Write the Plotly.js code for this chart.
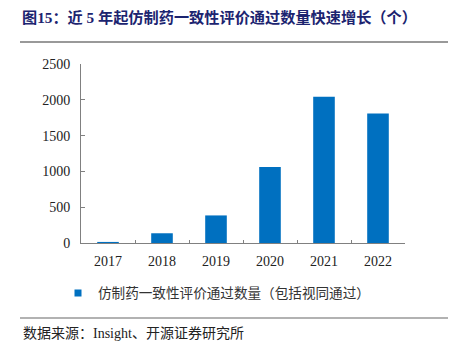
<!DOCTYPE html>
<html>
<head>
<meta charset="utf-8">
<script src="https://cdn.plot.ly/plotly-3.0.1.min.js"></script>
<style>
html,body{margin:0;padding:0;background:#fff;}
#chart{width:453px;height:349px;}
</style>
</head>
<body>
<div id="chart"></div>
<script>
const years = ['2017', '2018', '2019', '2020', '2021', '2022'];
const approvals = [15, 136, 385, 1060, 2043, 1807];
const seriesName = '仿制药一致性评价通过数量（包括视同通过）';
const titleText = '图15：近 5 年起仿制药一致性评价通过数量快速增长（个）';
const sourceText = '数据来源：Insight、开源证券研究所';
const yTicks = [0, 500, 1000, 1500, 2000, 2500];

const serifCJK = 'Liberation Serif, Noto Sans CJK SC, serif';
const barColor = '#0070c0';

const bars = {
  type: 'bar',
  x: years,
  y: approvals,
  name: seriesName,
  marker: {color: barColor},
  showlegend: false,
  hoverinfo: 'x+y'
};

// legend entry for the bar series (small square key as in the reference)
const legendKey = {
  type: 'scatter',
  mode: 'markers',
  x: [null],
  y: [null],
  name: seriesName,
  marker: {symbol: 'square', size: 7, color: barColor},
  showlegend: true,
  hoverinfo: 'skip'
};

const layout = {
  width: 453,
  height: 349,
  margin: {l: 81, r: 48, t: 63.5, b: 105.5},
  paper_bgcolor: '#ffffff',
  plot_bgcolor: '#ffffff',
  bargap: 0.6,
  title: {
    text: titleText,
    font: {family: serifCJK, size: 15.2, color: '#1c2470', weight: 'bold'},
    x: 22 / 453, xanchor: 'left', xref: 'container',
    y: 1 - 18 / 349, yanchor: 'middle', yref: 'container'
  },
  xaxis: {
    type: 'category',
    showline: true, linecolor: '#808080', linewidth: 1,
    ticks: 'inside', ticklen: 3, tickcolor: '#808080', tickson: 'boundaries',
    showgrid: false, zeroline: false,
    ticklabelstandoff: 5,
    tickfont: {family: 'Liberation Serif, serif', size: 14, color: '#222'},
    fixedrange: true
  },
  yaxis: {
    range: [0, 2500],
    tickvals: yTicks,
    ticktext: yTicks.map(String),
    showline: true, linecolor: '#808080', linewidth: 1,
    ticks: 'inside', ticklen: 4, tickcolor: '#808080',
    showgrid: false, zeroline: false,
    ticklabelstandoff: 7,
    tickfont: {family: 'Liberation Serif, serif', size: 14, color: '#222'},
    fixedrange: true
  },
  showlegend: true,
  legend: {
    orientation: 'h',
    x: (58 - 81) / 324, xanchor: 'left',
    y: (243.5 - 294) / 180, yanchor: 'middle',
    font: {family: 'Noto Sans CJK SC, sans-serif', size: 13.6, color: '#333'},
    bgcolor: 'rgba(0,0,0,0)'
  },
  shapes: [
    {type: 'line', xref: 'paper', yref: 'paper',
     x0: (20 - 81) / 324, x1: (448 - 81) / 324,
     y0: (243.5 - 41.5) / 180, y1: (243.5 - 41.5) / 180,
     line: {color: '#999999', width: 2}},
    {type: 'line', xref: 'paper', yref: 'paper',
     x0: (20 - 81) / 324, x1: (448 - 81) / 324,
     y0: (243.5 - 319) / 180, y1: (243.5 - 319) / 180,
     line: {color: '#999999', width: 1.5}}
  ],
  annotations: [
    {text: sourceText, xref: 'paper', yref: 'paper',
     x: (21 - 81) / 324, y: (243.5 - 335) / 180,
     xanchor: 'left', yanchor: 'middle', showarrow: false,
     font: {family: serifCJK, size: 14, color: '#222'}}
  ]
};

Plotly.newPlot('chart', [bars, legendKey], layout, {displayModeBar: false, staticPlot: true});
</script>
</body>
</html>
